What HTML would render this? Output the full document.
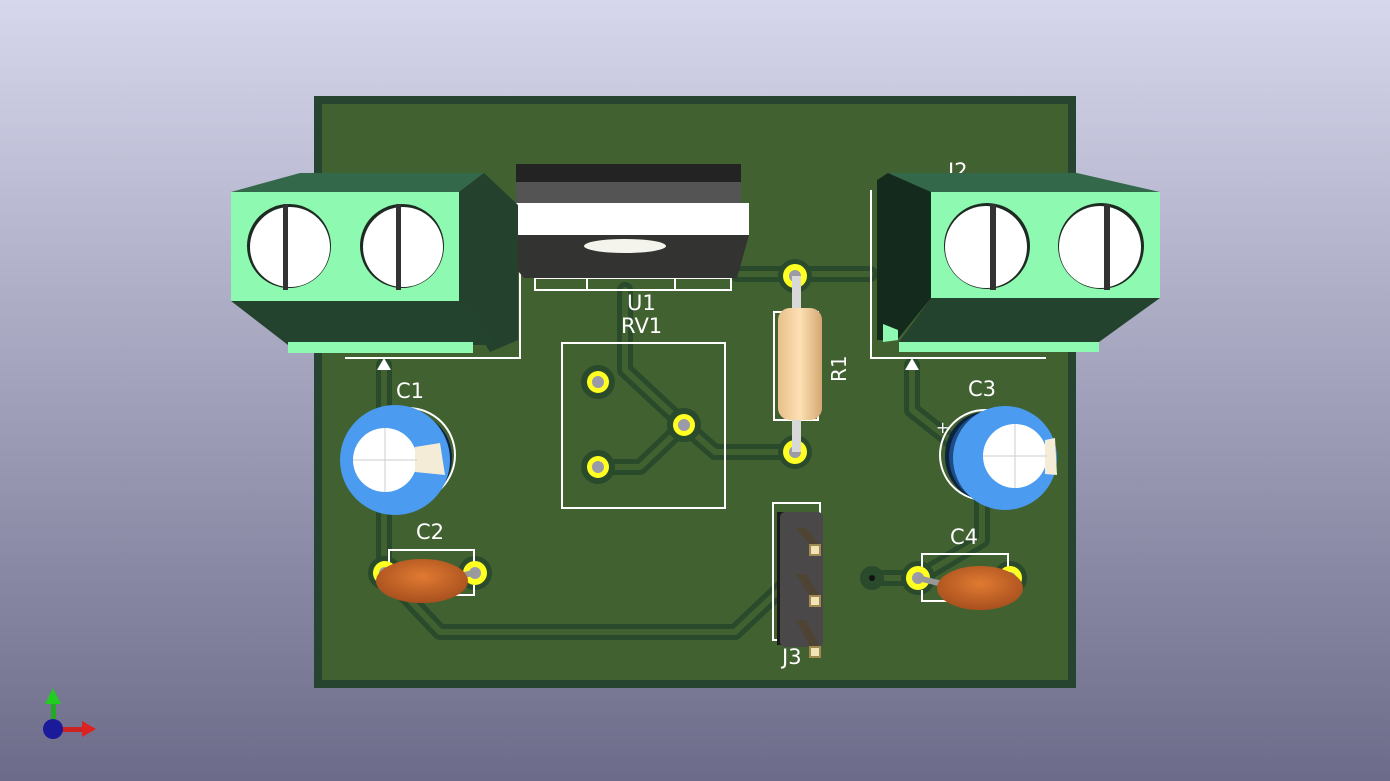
<!DOCTYPE html>
<html><head><meta charset="utf-8"><style>
html,body{margin:0;padding:0;width:1390px;height:781px;overflow:hidden}
svg{display:block}
text{font-family:"DejaVu Sans","Liberation Sans",sans-serif;fill:#fff}
</style></head><body>
<svg width="1390" height="781" viewBox="0 0 1390 781">
<defs>
<linearGradient id="bg" x1="0" y1="0" x2="0" y2="1"><stop offset="0" stop-color="#d6d6ec"/><stop offset="1" stop-color="#6c6c8a"/></linearGradient>
<radialGradient id="cer" cx="0.5" cy="0.4" r="0.6"><stop offset="0" stop-color="#e07a32"/><stop offset="1" stop-color="#a8501e"/></radialGradient>
<linearGradient id="res" x1="0" y1="0" x2="1" y2="0"><stop offset="0" stop-color="#e8c08a"/><stop offset="0.5" stop-color="#fde0b4"/><stop offset="1" stop-color="#d4a872"/></linearGradient>
</defs>
<rect width="1390" height="781" fill="url(#bg)"/>
<rect x="314" y="96" width="762" height="592" fill="#264430"/>
<rect x="322" y="104" width="746" height="576" fill="#426131"/>
<g fill="none" stroke-linejoin="round" stroke-linecap="round">
<g stroke="#2a4a2c" stroke-width="16">
<polyline points="384,365 384,573"/>
<polyline points="384,573 440,632 735,632 790,580"/>
<polyline points="625,290 625,370 684,425 715,452 795,452"/>
<polyline points="598,467 640,467 684,425"/>
<polyline points="737,274 870,274"/>
<polyline points="912,365 912,410 950,440"/>
<polyline points="982,500 982,540 918,578 872,578"/>
</g>
<g stroke="#426131" stroke-width="6">
<polyline points="384,365 384,573"/>
<polyline points="384,573 440,632 735,632 790,580"/>
<polyline points="625,290 625,370 684,425 715,452 795,452"/>
<polyline points="598,467 640,467 684,425"/>
<polyline points="737,274 870,274"/>
<polyline points="912,365 912,410 950,440"/>
<polyline points="982,500 982,540 918,578 872,578"/>
</g>
</g>
<g fill="#2a4a2c">
<circle cx="598" cy="382" r="17"/><circle cx="684" cy="425" r="17"/><circle cx="598" cy="467" r="17"/>
<circle cx="795" cy="276" r="17"/><circle cx="795" cy="452" r="17"/>
<circle cx="385" cy="573" r="17"/><circle cx="475" cy="573" r="17"/>
<circle cx="918" cy="578" r="17"/><circle cx="1010" cy="578" r="17"/><circle cx="872" cy="578" r="12"/>
</g>
<g fill="none" stroke="#fff" stroke-width="2">
<rect x="562" y="343" width="163" height="165"/>
<rect x="535" y="278" width="196" height="12"/>
<line x1="587" y1="278" x2="587" y2="290"/><line x1="675" y1="278" x2="675" y2="290"/>
<rect x="774" y="312" width="44" height="108"/>
<rect x="773" y="503" width="47" height="137"/>
<polyline points="389,563 389,550 474,550 474,563"/><polyline points="389,585 389,595 474,595 474,585"/>
<polyline points="922,567 922,554 1008,554 1008,567"/><polyline points="922,590 922,601 1008,601"/>
<polyline points="345,358 520,358 520,260"/>
<polyline points="871,190 871,358 1046,358"/>
<circle cx="408" cy="455" r="47"/>
<circle cx="985" cy="455" r="45"/>
</g>
<polygon points="384,358 377,370 391,370" fill="#fff"/>
<polygon points="912,358 905,370 919,370" fill="#fff"/>
<text x="936" y="433" font-size="16">+</text>
<g fill="#ffff22"><circle cx="598" cy="382" r="11"/><circle cx="684" cy="425" r="11"/><circle cx="598" cy="467" r="11"/>
<circle cx="795" cy="276" r="12"/><circle cx="795" cy="452" r="12"/>
<circle cx="385" cy="573" r="12"/><circle cx="475" cy="573" r="12"/><circle cx="918" cy="578" r="12"/><circle cx="1010" cy="578" r="12"/></g>
<g fill="#9a9aa8"><circle cx="598" cy="382" r="6"/><circle cx="684" cy="425" r="6"/><circle cx="598" cy="467" r="6"/>
<circle cx="795" cy="276" r="6"/><circle cx="795" cy="452" r="6"/>
<circle cx="385" cy="573" r="6"/><circle cx="475" cy="573" r="6"/><circle cx="918" cy="578" r="6"/><circle cx="1010" cy="578" r="6"/></g>
<circle cx="872" cy="578" r="3" fill="#111"/>
<rect x="792" y="276" width="9" height="176" fill="#d8d8d8"/>
<rect x="778" y="308" width="44" height="112" rx="12" fill="url(#res)"/>
<text x="0" y="0" font-size="20" transform="translate(846,382) rotate(-90)">R1</text>
<rect x="516" y="164" width="225" height="18" fill="#232323"/>
<rect x="516" y="182" width="225" height="21" fill="#555455"/>
<rect x="487" y="203" width="262" height="32" fill="#ffffff"/>
<polygon points="487,235 749,235 737,278 524,278" fill="#333331"/>
<ellipse cx="625" cy="246" rx="41" ry="7" fill="#f4f4ec"/>
<text x="627" y="310" font-size="21">U1</text>
<text x="621" y="333" font-size="21">RV1</text>
<polygon points="231,192 300,173 484,173 459,192" fill="#33694a"/>
<polygon points="459,192 484,173 518,205 518,340 490,352 459,301" fill="#23412d"/>
<polygon points="231,301 459,301 497,345 288,345" fill="#24432f"/>
<rect x="288" y="342" width="185" height="11" fill="#8ef9b0"/>
<rect x="231" y="192" width="228" height="109" fill="#8ef9b0"/>
<circle cx="289" cy="246" r="42" fill="#1e2b22"/><circle cx="290" cy="247" r="40" fill="#fff"/>
<rect x="283" y="204" width="5" height="86" fill="#333"/>
<circle cx="402" cy="246" r="42" fill="#1e2b22"/><circle cx="403" cy="247" r="40" fill="#fff"/>
<rect x="396" y="204" width="5" height="86" fill="#333"/>
<text x="948" y="178" font-size="21">J2</text>
<polygon points="888,173 1077,173 1160,192 931,192" fill="#33694a"/>
<polygon points="877,180 888,173 931,192 931,298 897,340 877,340" fill="#142a1c"/>
<polygon points="931,298 1160,298 1099,342 899,342" fill="#24432f"/>
<rect x="899" y="342" width="200" height="10" fill="#8ef9b0"/>
<polygon points="883,324 898,330 898,340 883,342" fill="#8ef9b0"/>
<rect x="931" y="192" width="229" height="106" fill="#8ef9b0"/>
<circle cx="987" cy="246" r="43" fill="#1e2b22"/><circle cx="986" cy="247" r="41" fill="#fff"/>
<rect x="990" y="204" width="6" height="86" fill="#333"/>
<circle cx="1101" cy="246" r="43" fill="#1e2b22"/><circle cx="1100" cy="247" r="41" fill="#fff"/>
<rect x="1104" y="204" width="6" height="86" fill="#333"/>
<text x="396" y="398" font-size="21">C1</text>
<ellipse cx="412" cy="458" rx="40" ry="44" fill="#0c2340"/>
<ellipse cx="405" cy="460" rx="40" ry="46" fill="#1d4c86"/>
<circle cx="395" cy="460" r="55" fill="#4b9bf0"/>
<circle cx="385" cy="460" r="32" fill="#fff"/>
<polygon points="415,447 440,443 445,475 415,472" fill="#f5ecd8"/>
<line x1="353" y1="460" x2="417" y2="460" stroke="#ccc" stroke-width="1"/><line x1="385" y1="428" x2="385" y2="492" stroke="#ccc" stroke-width="1"/>
<text x="968" y="396" font-size="21">C3</text>
<ellipse cx="985" cy="456" rx="40" ry="44" fill="#0c2340"/>
<ellipse cx="993" cy="457" rx="44" ry="46" fill="#1d4c86"/>
<circle cx="1005" cy="458" r="52" fill="#4b9bf0"/>
<circle cx="1015" cy="456" r="32" fill="#fff"/>
<polygon points="1045,440 1055,438 1057,475 1045,474" fill="#f5ecd8"/>
<line x1="983" y1="456" x2="1047" y2="456" stroke="#ccc" stroke-width="1"/><line x1="1015" y1="424" x2="1015" y2="488" stroke="#ccc" stroke-width="1"/>
<text x="416" y="539" font-size="21">C2</text>
<line x1="440" y1="580" x2="478" y2="572" stroke="#999" stroke-width="6"/>
<ellipse cx="422" cy="581" rx="46" ry="22" fill="url(#cer)"/>
<text x="950" y="544" font-size="21">C4</text>
<line x1="918" y1="578" x2="955" y2="587" stroke="#999" stroke-width="6"/>
<ellipse cx="980" cy="588" rx="43" ry="22" fill="url(#cer)"/>
<rect x="777" y="512" width="12" height="133" fill="#1a1a1a"/>
<rect x="780" y="512" width="43" height="135" rx="5" fill="#4a4848"/>
<g fill="#4f4434"><polygon points="796,528 806,528 820,545 810,545"/><polygon points="796,574 806,574 820,596 810,596"/><polygon points="796,620 806,620 820,647 810,647"/></g>
<g fill="#f3e4b8" stroke="#a08a50" stroke-width="2"><rect x="810" y="545" width="10" height="10"/><rect x="810" y="596" width="10" height="10"/><rect x="810" y="647" width="10" height="10"/></g>
<text x="782" y="664" font-size="21">J3</text>
<rect x="51" y="702" width="5" height="22" fill="#22aa22"/><polygon points="45,704 53,688 61,704" fill="#22cc22"/>
<rect x="60" y="727" width="24" height="5" fill="#cc2222"/><polygon points="82,721 96,729 82,737" fill="#dd2222"/>
<circle cx="53" cy="729" r="10" fill="#1a1a9a"/>
</svg>
</body></html>
